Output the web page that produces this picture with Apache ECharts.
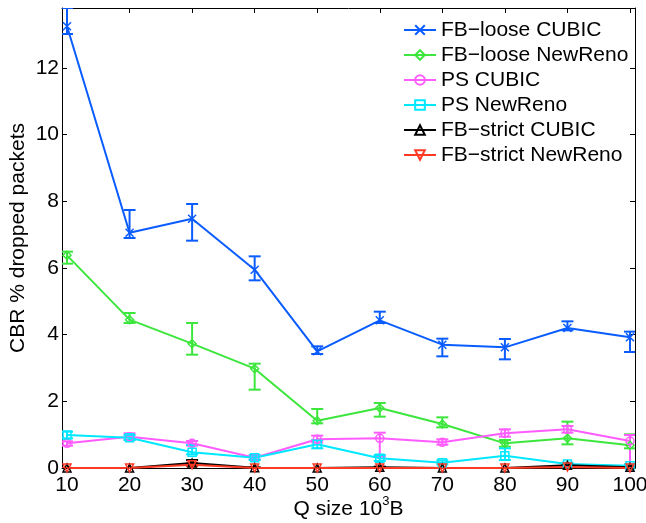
<!DOCTYPE html>
<html>
<head>
<meta charset="utf-8">
<script src="https://cdn.jsdelivr.net/npm/echarts@6/dist/echarts.min.js"></script>
<style>
html, body { margin: 0; padding: 0; background: #fff; }
#chart { width: 646px; height: 523px; }
</style>
</head>
<body>
<div id="chart"></div>
<script>
// Q size (10^3 B)
var qSize = [10, 20, 30, 40, 50, 60, 70, 80, 90, 100];
var xTicks = [10, 20, 30, 40, 50, 60, 70, 80, 90, 100];
var yTicks = [0, 2, 4, 6, 8, 10, 12];

// mean, lower and upper end of error bar for each series
var looseCubic     = [13.25, 7.06, 7.48, 5.95, 3.50, 4.43, 3.70, 3.62, 4.20, 3.92];
var looseCubicLow  = [13.02, 6.90, 6.82, 5.63, 3.42, 4.35, 3.35, 3.26, 4.13, 3.48];
var looseCubicHigh = [13.80, 7.74, 7.92, 6.35, 3.65, 4.69, 3.88, 3.87, 4.40, 4.09];

var looseReno     = [6.38, 4.45, 3.73, 2.98, 1.42, 1.80, 1.32, 0.74, 0.89, 0.68];
var looseRenoLow  = [6.13, 4.35, 3.40, 2.35, 1.34, 1.54, 1.22, 0.64, 0.71, 0.59];
var looseRenoHigh = [6.49, 4.65, 4.35, 3.13, 1.77, 1.95, 1.52, 0.84, 1.39, 1.01];

var psCubic     = [0.74, 0.94, 0.74, 0.31, 0.86, 0.89, 0.77, 1.04, 1.16, 0.81];
var psCubicLow  = [0.67, 0.84, 0.67, 0.26, 0.77, 0.34, 0.70, 0.94, 1.06, 0.09];
var psCubicHigh = [0.80, 1.04, 0.81, 0.36, 0.97, 1.06, 0.86, 1.16, 1.26, 0.99];

var psReno     = [0.99, 0.91, 0.47, 0.31, 0.71, 0.29, 0.16, 0.37, 0.12, 0.07];
var psRenoLow  = [0.89, 0.84, 0.41, 0.24, 0.59, 0.21, 0.11, 0.24, 0.08, 0.04];
var psRenoHigh = [1.09, 0.99, 0.69, 0.39, 0.84, 0.39, 0.23, 0.59, 0.16, 0.11];

var strictCubic     = [0, 0, 0.15, 0.01, 0, 0.02, 0, 0, 0.08, 0.02];
var strictCubicLow  = [0, 0, 0.08, 0, 0, 0, 0, 0, 0.04, 0];
var strictCubicHigh = [0, 0, 0.24, 0.02, 0, 0.04, 0, 0, 0.12, 0.04];

var strictReno     = [0, 0, 0.10, 0, 0, 0, 0, 0, 0.03, 0];
var strictRenoLow  = [0, 0, 0.05, 0, 0, 0, 0, 0, 0, 0];
var strictRenoHigh = [0, 0, 0.16, 0, 0, 0, 0, 0, 0.06, 0];

var FONT = "'Liberation Sans', Arial, sans-serif";
var crossPath = 'path://M0,0L10,10M10,0L0,10';

function lineSeries(name, vals, color, symbol, rotate) {
    return {
        name: name,
        type: 'line',
        data: qSize.map(function (q, i) { return [q, vals[i]]; }),
        symbol: symbol,
        symbolSize: 8,
        symbolRotate: rotate || 0,
        lineStyle: { color: color, width: 2 },
        itemStyle: { color: 'rgba(255,255,255,0)', borderColor: color, borderWidth: 1.5 },
        emphasis: { disabled: true },
        z: 3
    };
}

function errSeries(name, low, high, color) {
    return {
        name: name + ' err',
        type: 'custom',
        silent: true,
        clip: true,
        z: 2,
        encode: { x: 0, y: [1, 2] },
        data: qSize.map(function (q, i) { return [q, low[i], high[i]]; }),
        renderItem: function (params, api) {
            var lo = api.coord([api.value(0), api.value(1)]);
            var hi = api.coord([api.value(0), api.value(2)]);
            var w = 6;
            var st = { stroke: color, lineWidth: 2 };
            return {
                type: 'group',
                children: [
                    { type: 'line', shape: { x1: lo[0], y1: lo[1], x2: hi[0], y2: hi[1] }, style: st },
                    { type: 'line', shape: { x1: lo[0] - w, y1: lo[1], x2: lo[0] + w, y2: lo[1] }, style: st },
                    { type: 'line', shape: { x1: hi[0] - w, y1: hi[1], x2: hi[0] + w, y2: hi[1] }, style: st }
                ]
            };
        }
    };
}

var cBlue = '#0a5cff', cGreen = '#3ce63c', cMag = '#ff5cff', cCyan = '#00e8ff', cBlack = '#000000', cRed = '#ff3a24';

var names = ['FB\u2212loose CUBIC', 'FB\u2212loose NewReno', 'PS CUBIC', 'PS NewReno', 'FB\u2212strict CUBIC', 'FB\u2212strict NewReno'];

var axisCommon = {
    type: 'value',
    axisLine: { show: true, onZero: false, lineStyle: { color: '#000', width: 1 } },
    splitLine: { show: false }
};

var option = {
    animation: false,
    backgroundColor: '#fff',
    grid: { left: 62, right: 11, top: 8, bottom: 55, containLabel: false, outerBoundsMode: 'none' },
    legend: {
        orient: 'vertical',
        left: 403,
        top: 19,
        padding: 0,
        itemWidth: 32,
        itemHeight: 12,
        itemGap: 3,
        selectedMode: false,
        data: names,
        textStyle: { fontSize: 21, fontFamily: FONT, color: '#000', lineHeight: 22 }
    },
    xAxis: [
        Object.assign({}, axisCommon, {
            min: 9.2, max: 100.8, position: 'bottom',
            name: '{n|Q size 10}{s|3}{n|B}',
            nameLocation: 'middle',
            nameGap: 27,
            nameMoveOverlap: false,
            nameTextStyle: {
                rich: {
                    n: { fontSize: 21, lineHeight: 28, fontFamily: FONT, color: '#000' },
                    s: { fontSize: 13, lineHeight: 13, fontFamily: FONT, color: '#000', verticalAlign: 'top' }
                }
            },
            axisTick: { inside: true, length: 5, customValues: xTicks, lineStyle: { color: '#000' } },
            axisLabel: { customValues: xTicks, fontSize: 21, fontFamily: FONT, color: '#000', margin: 7 }
        }),
        Object.assign({}, axisCommon, {
            min: 9.2, max: 100.8, position: 'top',
            axisTick: { inside: true, length: 5, customValues: xTicks, lineStyle: { color: '#000' } },
            axisLabel: { show: false }
        })
    ],
    yAxis: [
        Object.assign({}, axisCommon, {
            min: 0, max: 13.8, position: 'left',
            name: 'CBR % dropped packets',
            nameLocation: 'middle',
            nameGap: 33,
            nameMoveOverlap: false,
            nameTextStyle: { fontSize: 21, fontFamily: FONT, color: '#000' },
            axisTick: { inside: true, length: 5, customValues: yTicks, lineStyle: { color: '#000' } },
            axisLabel: { customValues: yTicks, fontSize: 21, fontFamily: FONT, color: '#000', margin: 3 }
        }),
        Object.assign({}, axisCommon, {
            min: 0, max: 13.8, position: 'right',
            axisTick: { inside: true, length: 5, customValues: yTicks, lineStyle: { color: '#000' } },
            axisLabel: { show: false }
        })
    ],
    series: [
        errSeries(names[0], looseCubicLow, looseCubicHigh, cBlue),
        errSeries(names[1], looseRenoLow, looseRenoHigh, cGreen),
        errSeries(names[2], psCubicLow, psCubicHigh, cMag),
        errSeries(names[3], psRenoLow, psRenoHigh, cCyan),
        errSeries(names[4], strictCubicLow, strictCubicHigh, cBlack),
        errSeries(names[5], strictRenoLow, strictRenoHigh, cRed),
        lineSeries(names[0], looseCubic, cBlue, crossPath),
        lineSeries(names[1], looseReno, cGreen, 'diamond'),
        lineSeries(names[2], psCubic, cMag, 'circle'),
        lineSeries(names[3], psReno, cCyan, 'rect'),
        lineSeries(names[4], strictCubic, cBlack, 'triangle'),
        lineSeries(names[5], strictReno, cRed, 'triangle', 180)
    ]
};

var chart = echarts.init(document.getElementById('chart'), null, { renderer: 'canvas' });
chart.setOption(option);
</script>
</body>
</html>
